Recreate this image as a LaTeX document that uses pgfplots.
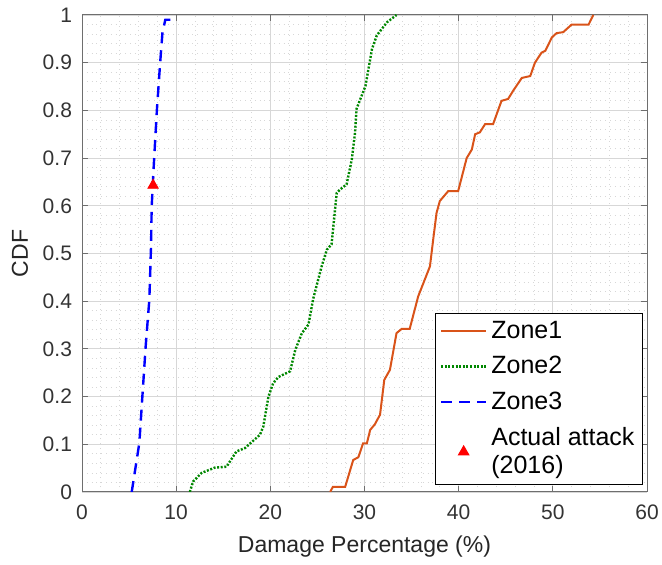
\documentclass[border=0pt]{standalone}
\usepackage{fontspec}
\setmainfont{Liberation Sans}
\usepackage{pgfplots}
\pgfplotsset{compat=1.18}
\definecolor{zoneone}{RGB}{217,83,25}
\definecolor{zonetwo}{RGB}{0,135,0}
\definecolor{gridmaj}{RGB}{215,215,215}
\definecolor{axgray}{RGB}{110,110,110}

\begin{document}
\begin{tikzpicture}
\begin{axis}[
    scale only axis,
    width=282.5pt, height=238.5pt,
    xmin=0, xmax=60, ymin=0, ymax=1,
    xtick={0,10,20,30,40,50,60},
    ytick={0,0.1,0.2,0.3,0.4,0.5,0.6,0.7,0.8,0.9,1},
    minor x tick num=4, minor y tick num=4,
    grid=both,
    major grid style={gridmaj, line width=0.4pt},
    minor grid style={gridmaj, dotted, line width=0.4pt},
    tick align=inside,
    xtick pos=both, ytick pos=both,
    major tick length=3pt, minor tick length=0pt,
    axis line style={axgray, line width=0.5pt},
    every tick/.style={axgray, line width=0.5pt},
    tick label style={font=\fontsize{10.5}{12}\selectfont, black!80},
    yticklabel style={xshift=-1.5pt},
    xticklabel style={yshift=-3pt},
    /pgf/number format/assume math mode=true,
    xlabel={Damage Percentage (\%)},
    ylabel={CDF},
    every axis x label/.style={at={(axis description cs:0.5,-0.1138)}, anchor=center,
        font=\fontsize{11.5}{13}\selectfont, text=black!85},
    every axis y label/.style={at={(axis description cs:-0.1097,0.5)}, rotate=90, anchor=center,
        font=\fontsize{11.5}{13}\selectfont, text=black!85},
    legend style={
        at={(1,0)}, anchor=south east, xshift=-2pt, yshift=3.5pt,
        draw=black, line width=0.5pt, fill=white,
        font=\fontsize{12.5}{14}\selectfont,
        inner xsep=2pt, inner ysep=2pt,
        row sep=3.5pt,
        cells={anchor=west, align=left},
    },
    legend image code/.code={\draw[#1] (0pt,0pt) -- (22.5pt,0pt);},
]
\addplot[zoneone, line width=1pt] coordinates {
    (26.35,0) (26.65,0.011) (27.95,0.011) (28.8,0.067) (29.35,0.073)
    (29.85,0.102) (30.25,0.102) (30.6,0.13) (31.1,0.142) (31.65,0.162)
    (32.1,0.235) (32.7,0.256) (33.4,0.333) (33.95,0.342) (34.8,0.342)
    (35.7,0.41) (36.95,0.473) (37.3,0.53) (37.65,0.585) (38.0,0.61)
    (38.9,0.631) (39.95,0.631) (40.85,0.70) (41.4,0.718) (41.75,0.75)
    (42.25,0.754) (42.8,0.771) (43.65,0.771) (44.55,0.82) (45.25,0.824)
    (45.75,0.84) (46.7,0.868) (47.6,0.872) (48.1,0.9) (48.8,0.921)
    (49.2,0.925) (49.9,0.953) (50.4,0.962) (51.1,0.964) (52.0,0.98)
    (53.8,0.98) (54.3,1.0)
};
\addlegendentry{Zone1}
\addplot[zonetwo, line width=1.2pt, dash pattern=on 1pt off 0.8pt] coordinates {
    (11.45,0) (11.8,0.022) (12.7,0.04) (14.1,0.051) (15.35,0.053)
    (16.4,0.085) (17.3,0.092) (18.9,0.12) (19.25,0.137) (19.8,0.2)
    (20.3,0.228) (20.85,0.241) (22.1,0.253) (22.65,0.298) (23.35,0.333)
    (24.05,0.351) (24.55,0.405) (25.45,0.473) (26.0,0.508) (26.5,0.519)
    (27.05,0.627) (27.4,0.634) (28.1,0.645) (28.65,0.697) (29.0,0.754)
    (29.15,0.803) (30.1,0.851) (30.8,0.929) (31.3,0.957) (32.4,0.985)
    (33.4,1.0)
};
\addlegendentry{Zone2}
\addplot[blue, line width=1.2pt, dash pattern=on 5.5pt off 3.5pt] coordinates {
    (5.28,0) (6.09,0.103) (6.41,0.2) (6.76,0.305) (7.15,0.403) (7.33,0.514)
    (7.4,0.598) (7.58,0.67) (7.95,0.8) (8.3,0.9) (8.55,0.964) (8.85,0.99)
    (9.65,0.99)
};
\addlegendentry{Zone3}
\addplot[only marks, mark=triangle*, mark size=3pt, color=red,
    legend image code/.code={\draw[mark repeat=2, mark phase=2] plot coordinates {(0pt,0pt) (11.25pt,0pt) (22.5pt,0pt)};}] coordinates {
    (7.55,0.643)
};
\addlegendentry{Actual attack\\(2016)}
\end{axis}
\pgfresetboundingbox
\path[use as bounding box] ([shift={(-41pt,-36.5pt)}]current axis.south west) rectangle ([shift={(7.5pt,7.5pt)}]current axis.north east);
\end{tikzpicture}
\end{document}
